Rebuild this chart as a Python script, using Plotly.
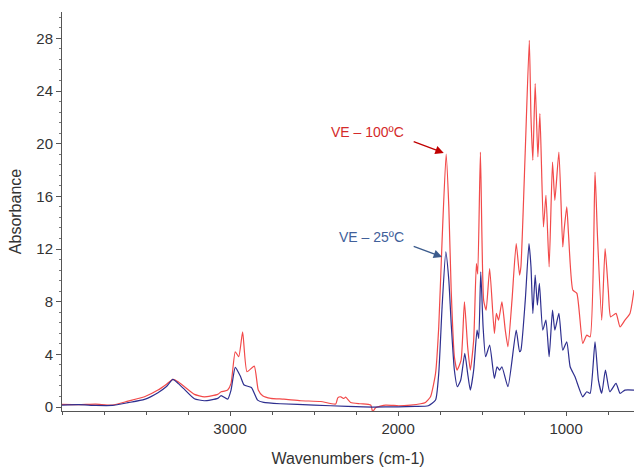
import plotly.graph_objects as go

# VE - 100ºC spectrum
wn_100 = [4000, 3900, 3800, 3700, 3607, 3509, 3429, 3380, 3340, 3309, 3271, 3212, 3153, 3073, 3053,
          3034, 3014, 2994, 2969, 2948, 2925, 2899, 2856, 2832, 2806, 2757, 2680, 2579, 2460, 2371,
          2359, 2341, 2323, 2312, 2282, 2223, 2163, 2151, 2134, 2074, 1997, 1926, 1866, 1837, 1807,
          1777, 1758, 1738, 1714, 1698, 1684, 1665, 1649, 1625, 1605, 1586, 1570, 1550, 1534, 1526,
          1510, 1491, 1476, 1455, 1427, 1415, 1402, 1382, 1362, 1346, 1322, 1297, 1277, 1269, 1243,
          1219, 1209, 1198, 1184, 1168, 1156, 1135, 1120, 1101, 1081, 1067, 1043, 1020, 1012, 996,
          986, 960, 936, 901, 877, 857, 828, 814, 788, 768, 749, 735, 703, 679, 650, 620, 596]
abs_100 = [0.2, 0.18, 0.22, 0.15, 0.45, 0.78, 1.29, 1.72, 2.1, 1.92, 1.54, 0.96, 0.78, 0.96, 1.16,
           1.21, 1.3, 1.8, 4.2, 3.82, 5.71, 2.68, 3.11, 1.29, 0.86, 0.66, 0.6, 0.48, 0.42, 0.23,
           0.7, 0.78, 0.65, 0.75, 0.35, 0.25, 0.15, -0.36, -0.05, 0.15, 0.1, 0.15, 0.25, 0.35, 0.78,
           2.56, 6.09, 12.67, 19.2, 15.2, 8.88, 3.82, 2.81, 3.57, 7.99, 4.58, 2.81, 5.08, 10.9, 10.1,
           19.37, 8.12, 7.36, 10.52, 5.59, 7.11, 6.6, 7.99, 5.84, 4.58, 8.12, 12.42, 10.02, 10.65, 19.5,
           27.85, 22.0, 18.74, 24.56, 19.0, 22.28, 13.68, 16.08, 10.65, 18.61, 15.7, 19.37, 12.16, 13.43, 15.2,
           13.18, 8.88, 8.63, 4.83, 5.46, 5.33, 17.85, 13.18, 6.6, 12.04, 8.88, 6.85, 7.11, 6.09, 6.6, 7.11, 8.88]

# VE - 25ºC spectrum
wn_25 = [4000, 3900, 3800, 3700, 3607, 3509, 3429, 3380, 3340, 3309, 3271, 3212, 3153, 3073, 3053,
         3014, 2994, 2969, 2939, 2916, 2873, 2836, 2800, 2700, 2500, 2300, 2150, 2000, 1900, 1820,
         1777, 1758, 1738, 1716, 1698, 1684, 1665, 1647, 1627, 1603, 1586, 1570, 1550, 1530, 1520,
         1508, 1494, 1479, 1455, 1427, 1411, 1396, 1382, 1346, 1297, 1277, 1269, 1243, 1221, 1209,
         1198, 1184, 1171, 1159, 1139, 1120, 1101, 1081, 1067, 1043, 1020, 996, 976, 947, 901,
         877, 857, 828, 808, 788, 766, 740, 703, 679, 650, 596]
abs_25 = [0.15, 0.18, 0.12, 0.12, 0.33, 0.58, 1.09, 1.54, 2.1, 1.8, 1.34, 0.63, 0.48, 0.66, 0.86,
          0.6, 1.29, 3.01, 2.35, 1.67, 1.49, 0.53, 0.35, 0.25, 0.15, 0.05, 0.0, 0.02, 0.05, 0.1,
          0.53, 2.56, 7.61, 11.78, 9.64, 6.35, 2.81, 1.54, 2.05, 4.07, 2.56, 1.29, 2.81, 5.84, 5.21,
          10.27, 6.09, 3.82, 4.7, 2.18, 3.06, 2.81, 3.06, 1.54, 5.84, 4.2, 4.32, 8.12, 12.42, 10.65,
          7.11, 10.02, 7.74, 9.39, 5.84, 6.6, 3.82, 7.36, 5.84, 7.11, 4.32, 4.95, 3.06, 2.3, 0.78,
          1.16, 1.04, 4.95, 2.05, 1.04, 2.81, 1.16, 1.8, 1.04, 1.29, 1.29]

y_ticks = [0, 4, 8, 12, 16, 20, 24, 28]
x_ticks = [1000, 2000, 3000]

RED = "#f24a4a"
BLUE = "#2e2f8f"
FONT = "Liberation Sans, Arial, sans-serif"

fig = go.Figure()
fig.add_trace(go.Scatter(x=wn_100, y=abs_100, mode="lines", name="VE – 100ºC",
                         line=dict(color=RED, width=1.2, shape="spline", smoothing=0.5)))
fig.add_trace(go.Scatter(x=wn_25, y=abs_25, mode="lines", name="VE – 25ºC",
                         line=dict(color=BLUE, width=1.2, shape="spline", smoothing=0.5)))

fig.update_layout(
    width=634, height=467,
    margin=dict(l=62, r=0, t=12, b=56),
    paper_bgcolor="white", plot_bgcolor="white",
    showlegend=False,
    font=dict(family=FONT, color="#333333"),
    xaxis=dict(
        range=[4000, 596], autorange=False,
        tickvals=x_ticks, ticks="outside", ticklen=4, tickcolor="#555",
        showgrid=False, zeroline=False, showline=True, linecolor="#555", linewidth=1,
        tickfont=dict(size=15, color="#333"),
        minor=dict(dtick=250, ticks="outside", ticklen=3, tickcolor="#555"),
        title=dict(text="Wavenumbers (cm-1)", font=dict(size=16, color="#333"), standoff=18),
    ),
    yaxis=dict(
        range=[-0.3, 30], autorange=False,
        tickvals=y_ticks, ticks="outside", ticklen=5, tickcolor="#555",
        showgrid=False, zeroline=False, showline=True, linecolor="#555", linewidth=1,
        tickfont=dict(size=15, color="#333"),
        minor=dict(dtick=0.8, ticks="outside", ticklen=2, tickcolor="#777"),
        title=dict(text="Absorbance", font=dict(size=16, color="#333"), standoff=10),
    ),
)

# Labels
fig.add_annotation(x=1955, y=20.9, xref="x", yref="y", text="VE – 100ºC", showarrow=False,
                   xanchor="right", yanchor="middle", font=dict(size=14, color="#d42a2a", family=FONT))
fig.add_annotation(x=1955, y=12.9, xref="x", yref="y", text="VE – 25ºC", showarrow=False,
                   xanchor="right", yanchor="middle", font=dict(size=14, color="#41609a", family=FONT))
# Arrows
fig.add_annotation(x=1728, y=19.3, ax=1916, ay=20.2, xref="x", yref="y", axref="x", ayref="y",
                   text="", showarrow=True, arrowhead=2, arrowsize=1.3, arrowwidth=1.3,
                   arrowcolor="#c00000")
fig.add_annotation(x=1738, y=11.4, ax=1916, ay=12.24, xref="x", yref="y", axref="x", ayref="y",
                   text="", showarrow=True, arrowhead=2, arrowsize=1.3, arrowwidth=1.3,
                   arrowcolor="#3b5b8c")

fig.write_html("out.html", config={"displayModeBar": False},
               post_script="document.body.style.margin='0';document.body.style.overflow='hidden';")
